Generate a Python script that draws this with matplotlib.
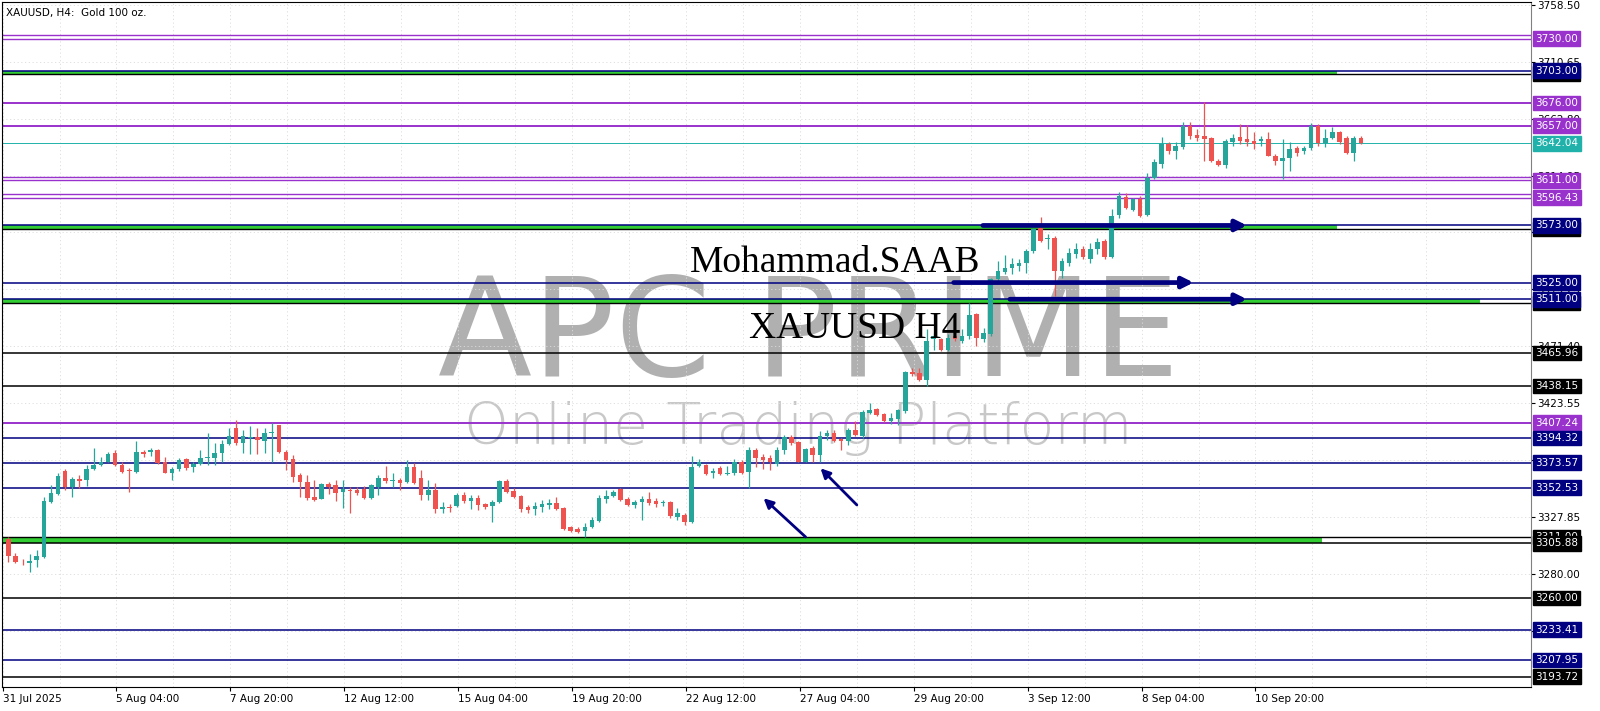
import numpy as np
import matplotlib.pyplot as plt
from matplotlib.transforms import blended_transform_factory

# H4 candles (bar 0 = 31 Jul 2025)
opens = [3309.2, 3295.4, 3290.5, 3289.0, 3291.8, 3294.6, 3340.9, 3347.4, 3366.7, 3353.0,
         3359.7, 3359.1, 3368.1, 3371.8, 3374.6, 3381.6, 3371.8, 3367.3, 3366.2, 3383.0,
         3382.2, 3383.9, 3374.6, 3365.3, 3368.1, 3376.6, 3369.8, 3372.6, 3377.8, 3377.4,
         3381.6, 3389.5, 3402.7, 3390.0, 3394.3, 3395.1, 3391.5, 3398.5, 3404.9, 3382.2,
         3376.6, 3363.4, 3357.8, 3345.1, 3343.2, 3355.5, 3355.0, 3348.8, 3350.8, 3350.8,
         3351.3, 3343.7, 3353.5, 3360.6, 3358.6, 3359.2, 3357.8, 3370.4, 3360.6, 3346.5,
         3350.7, 3334.4, 3336.1, 3337.3, 3346.5, 3341.7, 3343.7, 3338.9, 3337.3, 3340.9,
         3358.6, 3350.2, 3345.7, 3336.1, 3335.0, 3336.7, 3338.1, 3339.5, 3335.3, 3319.3,
         3317.9, 3316.5, 3319.3, 3324.9, 3342.9, 3345.7, 3351.3, 3342.9, 3338.1, 3340.9,
         3342.9, 3341.7, 3339.5, 3340.9, 3328.3, 3329.7, 3324.1, 3370.9, 3371.8, 3364.8,
         3369.0, 3364.2, 3364.8, 3373.8, 3366.2, 3384.4, 3378.3, 3377.4, 3372.6, 3383.9,
         3395.1, 3390.6, 3374.6, 3385.8, 3380.2, 3395.7, 3398.5, 3393.4, 3391.5, 3401.3,
         3396.2, 3415.6, 3418.7, 3414.8, 3408.3, 3410.3, 3416.7, 3449.6, 3449.0, 3443.5,
         3477.2, 3477.2, 3468.7, 3480.0, 3475.8, 3480.0, 3498.2, 3477.7, 3481.4, 3527.7,
         3533.9, 3537.5, 3538.9, 3541.7, 3551.6, 3571.2, 3561.7, 3562.8, 3534.7, 3541.7,
         3548.8, 3553.5, 3545.1, 3553.0, 3560.0, 3546.8, 3581.6, 3597.3, 3586.0, 3595.0,
         3581.6, 3613.3, 3624.5, 3641.4, 3635.8, 3638.6, 3656.8, 3649.0, 3648.4, 3646.1,
         3627.3, 3623.7, 3642.8, 3647.0, 3645.6, 3644.2, 3644.2, 3645.6, 3631.5, 3627.3,
         3630.1, 3637.7, 3635.8, 3637.7, 3656.8, 3642.2, 3646.1, 3651.2, 3646.1, 3634.3,
         3646.1]
highs = [3310.9, 3297.4, 3293.0, 3296.8, 3300.0, 3345.1, 3355.0, 3364.8, 3368.0, 3362.0,
         3363.4, 3371.8, 3385.8, 3378.3, 3383.0, 3383.9, 3374.6, 3369.0, 3391.5, 3383.9,
         3385.8, 3385.0, 3378.8, 3369.8, 3377.4, 3377.4, 3374.6, 3384.4, 3398.5, 3390.0,
         3392.8, 3402.7, 3409.1, 3400.7, 3404.6, 3402.7, 3402.7, 3406.9, 3405.5, 3384.4,
         3380.2, 3365.3, 3363.4, 3359.2, 3356.4, 3357.8, 3359.2, 3359.2, 3353.5, 3353.0,
         3354.1, 3355.8, 3363.4, 3370.9, 3364.8, 3360.6, 3376.0, 3373.2, 3367.6, 3359.2,
         3356.9, 3340.9, 3338.9, 3347.9, 3349.3, 3346.5, 3346.5, 3340.1, 3342.3, 3359.2,
         3359.7, 3352.1, 3346.5, 3338.1, 3340.9, 3342.3, 3342.9, 3345.1, 3336.1, 3320.4,
         3319.3, 3322.7, 3328.3, 3346.5, 3350.7, 3350.7, 3352.1, 3345.1, 3342.3, 3345.7,
         3349.3, 3343.7, 3342.3, 3341.7, 3335.3, 3331.1, 3379.4, 3376.6, 3372.6, 3369.0,
         3371.0, 3371.0, 3376.6, 3376.0, 3387.2, 3385.8, 3381.1, 3380.2, 3387.2, 3397.1,
         3397.1, 3391.5, 3385.8, 3387.8, 3399.9, 3400.7, 3400.7, 3394.3, 3402.7, 3408.3,
         3417.6, 3423.7, 3419.5, 3415.3, 3415.3, 3418.7, 3451.0, 3453.3, 3453.3, 3485.6,
         3482.8, 3478.6, 3481.4, 3480.5, 3485.6, 3508.0, 3499.6, 3487.0, 3529.1, 3543.2,
         3547.9, 3545.9, 3544.6, 3553.0, 3571.2, 3579.7, 3565.6, 3564.2, 3546.0, 3554.4,
         3558.6, 3555.8, 3558.6, 3562.8, 3562.0, 3586.7, 3600.7, 3600.1, 3596.4, 3597.9,
         3617.5, 3628.7, 3647.0, 3642.8, 3642.8, 3659.6, 3660.2, 3654.0, 3676.5, 3647.0,
         3628.7, 3645.6, 3649.8, 3658.2, 3657.4, 3651.8, 3648.4, 3651.2, 3632.9, 3645.6,
         3642.8, 3639.4, 3640.0, 3659.0, 3658.2, 3654.0, 3655.4, 3652.6, 3647.8, 3648.4,
         3647.8]
lows = [3290.4, 3289.5, 3287.5, 3282.0, 3286.0, 3293.2, 3339.5, 3346.5, 3350.7, 3345.0,
        3352.1, 3354.1, 3367.6, 3371.0, 3373.8, 3371.0, 3365.3, 3349.3, 3365.3, 3378.3,
        3379.4, 3372.6, 3364.8, 3359.2, 3367.0, 3367.6, 3366.2, 3371.8, 3371.8, 3371.8,
        3374.6, 3388.6, 3388.6, 3381.6, 3381.1, 3381.1, 3381.6, 3374.6, 3381.6, 3367.6,
        3357.8, 3345.1, 3342.3, 3341.7, 3342.9, 3347.4, 3341.7, 3335.3, 3331.1, 3346.5,
        3342.9, 3342.9, 3346.5, 3356.4, 3353.5, 3350.7, 3356.9, 3355.8, 3342.3, 3342.3,
        3331.1, 3331.6, 3332.5, 3336.1, 3339.5, 3334.4, 3333.9, 3334.4, 3324.1, 3340.1,
        3348.5, 3343.7, 3332.5, 3331.1, 3329.7, 3332.5, 3334.4, 3333.9, 3317.0, 3315.6,
        3314.2, 3311.4, 3318.4, 3324.1, 3339.5, 3344.6, 3341.7, 3337.3, 3335.3, 3325.5,
        3338.1, 3336.1, 3337.3, 3326.9, 3325.5, 3321.3, 3322.7, 3369.8, 3363.4, 3360.6,
        3363.4, 3363.4, 3363.4, 3364.2, 3352.1, 3370.4, 3368.1, 3367.6, 3371.0, 3381.1,
        3388.6, 3373.8, 3373.8, 3374.6, 3374.6, 3392.8, 3390.6, 3384.4, 3388.6, 3396.2,
        3394.3, 3414.8, 3413.1, 3407.5, 3406.3, 3405.5, 3415.0, 3446.3, 3442.1, 3437.8,
        3468.7, 3467.3, 3467.3, 3475.8, 3474.4, 3477.7, 3471.5, 3474.9, 3480.0, 3526.3,
        3531.9, 3531.9, 3534.7, 3533.3, 3550.2, 3559.2, 3553.5, 3513.7, 3529.1, 3538.9,
        3546.0, 3544.6, 3541.7, 3548.8, 3545.1, 3546.0, 3579.6, 3586.6, 3585.2, 3580.4,
        3581.0, 3611.9, 3621.7, 3633.0, 3628.7, 3637.2, 3645.6, 3644.2, 3627.3, 3626.5,
        3622.6, 3620.9, 3640.0, 3641.4, 3640.0, 3637.2, 3640.0, 3631.0, 3623.7, 3612.4,
        3618.9, 3631.5, 3632.9, 3636.6, 3640.0, 3638.6, 3645.6, 3641.4, 3632.9, 3627.3,
        3641.4]
closes = [3295.4, 3290.4, 3290.0, 3291.0, 3295.1, 3341.7, 3347.9, 3362.8, 3353.0, 3359.7,
          3358.6, 3368.1, 3371.8, 3374.6, 3381.1, 3371.8, 3366.2, 3366.7, 3382.2, 3381.0,
          3383.9, 3373.2, 3365.3, 3368.1, 3376.0, 3369.0, 3372.6, 3377.4, 3378.3, 3381.6,
          3389.5, 3396.2, 3390.0, 3395.7, 3394.6, 3392.3, 3398.5, 3399.0, 3382.2, 3376.0,
          3362.0, 3357.8, 3343.7, 3342.3, 3355.5, 3353.5, 3348.5, 3351.3, 3350.2, 3348.0,
          3343.7, 3355.0, 3360.6, 3358.6, 3358.9, 3356.9, 3370.4, 3356.4, 3346.5, 3350.7,
          3334.4, 3336.1, 3335.3, 3346.5, 3341.7, 3343.7, 3338.1, 3336.1, 3340.9, 3358.6,
          3349.3, 3345.1, 3334.4, 3333.9, 3337.0, 3338.9, 3339.5, 3334.4, 3317.6, 3316.5,
          3315.6, 3319.9, 3325.5, 3343.7, 3345.7, 3349.3, 3342.3, 3338.1, 3340.9, 3342.9,
          3339.5, 3338.9, 3340.9, 3328.8, 3331.1, 3324.1, 3370.4, 3374.6, 3364.2, 3367.0,
          3364.2, 3364.8, 3374.6, 3365.3, 3384.4, 3377.4, 3376.0, 3373.8, 3383.9, 3395.1,
          3390.0, 3374.6, 3385.0, 3380.2, 3395.7, 3398.5, 3391.5, 3391.5, 3401.3, 3397.1,
          3415.9, 3417.6, 3413.9, 3408.3, 3411.1, 3417.6, 3449.6, 3448.5, 3443.5, 3475.8,
          3480.0, 3468.7, 3478.6, 3477.2, 3480.0, 3497.4, 3478.6, 3482.8, 3527.7, 3534.7,
          3537.5, 3540.3, 3541.7, 3551.6, 3569.8, 3560.0, 3562.2, 3534.7, 3543.2, 3550.2,
          3553.5, 3546.8, 3553.5, 3559.2, 3546.8, 3581.1, 3597.9, 3588.0, 3595.0, 3581.0,
          3613.3, 3626.5, 3641.4, 3635.8, 3640.0, 3656.8, 3648.4, 3646.1, 3645.6, 3627.3,
          3623.7, 3644.2, 3646.1, 3644.2, 3642.8, 3641.4, 3645.6, 3631.5, 3627.3, 3630.1,
          3637.2, 3634.3, 3637.7, 3656.8, 3642.2, 3646.1, 3651.2, 3642.8, 3634.3, 3646.1,
          3642.0]

time_labels = ['31 Jul 2025', '5 Aug 04:00', '7 Aug 20:00', '12 Aug 12:00', '15 Aug 04:00',
               '19 Aug 20:00', '22 Aug 12:00', '27 Aug 04:00', '29 Aug 20:00', '3 Sep 12:00',
               '8 Sep 04:00', '10 Sep 20:00']
price_ticks = [3232.15, 3280.00, 3327.85, 3375.70, 3423.55, 3471.40, 3519.25,
               3567.10, 3614.95, 3662.80, 3710.65, 3758.50]

purple_levels = [3730.00, 3676.00, 3657.00, 3611.00, 3596.43, 3407.24]
purple_double = [True, False, False, True, True, False]
navy_levels = [3703.00, 3573.00, 3525.00, 3511.00, 3394.32, 3373.57, 3352.53, 3233.41, 3207.95]
black_levels = [3465.96, 3438.15, 3305.88, 3260.00, 3193.72]
bid_price = 3642.04

# green zones: (lower line, upper line, last bar reached) + the black partner line of each
zone_low = [3700.50, 3570.00, 3508.00, 3305.88]
zone_high = [3703.00, 3573.00, 3511.00, 3311.00]
zone_end = [186.6, 186.6, 206.7, 184.6]
zone_black = [3700.50, 3570.00, 3508.00, 3311.00]

# hand drawn arrows (bar, price)
harrow_from = [136.9, 132.8, 140.7]
harrow_to = [174.0, 166.5, 174.0]
harrow_price = [3573.0, 3525.0, 3511.0]
darrow_tail = [(112.0, 3311.2), (119.2, 3338.1)]
darrow_tip = [(106.1, 3343.7), (114.1, 3368.9)]

UP = '#26a69a'
DOWN = '#ef5350'
PURPLE = '#9932cc'
NAVY = '#000080'
BID = '#20b2aa'
GREEN = '#32cd32'

fig = plt.figure(figsize=(16, 7.11), dpi=100)
ax = fig.add_axes([2 / 1600, 24 / 711, 1529 / 1600, 685 / 711])
ax.set_xlim(-0.88, 213.9)
ax.set_ylim(3185.1, 3760.8)

o = np.array(opens)
h = np.array(highs)
l = np.array(lows)
c = np.array(closes)
x = np.arange(len(o))
col = np.where(c >= o, UP, DOWN)

# axes, ticks, grid
ax.set_xticks([16 * k - 0.8 for k in range(len(time_labels))])
ax.set_xticks([8 * k - 0.8 for k in range(1, 27, 2)], minor=True)
ax.set_xticklabels(time_labels, ha='left', fontsize=7.5)
ax.set_yticks(price_ticks)
ax.set_yticklabels([f'{p:.2f}' for p in price_ticks], fontsize=7.5)
ax.yaxis.tick_right()
ax.tick_params(axis='y', length=3, pad=1.5, colors='black')
ax.tick_params(axis='x', which='major', length=3, pad=2)
ax.tick_params(axis='x', which='minor', length=0)
ax.grid(True, which='both', color='#dcdcdc', linestyle=(0, (1.5, 3)), lw=0.6)
ax.set_axisbelow(True)
for s in ax.spines.values():
    s.set_color('black')
    s.set_linewidth(0.8)
ax.spines['right'].set_color('#808080')

# watermark
ax.text(0.5053, 0.4712, 'APC PRIME', transform=fig.transFigure, ha='center', va='baseline',
        fontsize=99, color='#b0b0b0', zorder=0.3, family='DejaVu Sans')
ax.text(0.4988, 0.3755, 'Online Trading Platform', transform=fig.transFigure, ha='center',
        va='baseline', fontsize=41, color='#c8c8c8', zorder=0.3, family='DejaVu Sans',
        fontweight='light')

# zones
for lo, hi, end in zip(zone_low, zone_high, zone_end):
    ax.fill_between([-0.88, end], lo, hi, color=GREEN, lw=0, zorder=1)
for p in zone_black:
    ax.axhline(p, color='black', lw=1.0, zorder=1.5)

# horizontal levels
for p, dbl in zip(purple_levels, purple_double):
    if dbl:
        ax.axhline(p, color=PURPLE, lw=1.0, zorder=1.5)
        ax.axhline(p + 3.0, color=PURPLE, lw=1.0, zorder=1.5)
    else:
        ax.axhline(p, color=PURPLE, lw=1.4, zorder=1.5)
for p in navy_levels:
    ax.axhline(p, color=NAVY, lw=1.1, zorder=1.5)
for p in black_levels:
    ax.axhline(p, color='black', lw=1.1, zorder=1.5)
ax.axhline(bid_price, color=BID, lw=0.7, zorder=1.5)

# candles
ax.vlines(x, l, h, color=col, lw=0.9, zorder=3)
body = np.maximum(np.abs(c - o), 0.5)
ax.bar(x, body, bottom=np.minimum(o, c), width=0.64, color=col, lw=0, zorder=3.1)

# arrows
for x0, x1, p in zip(harrow_from, harrow_to, harrow_price):
    ax.annotate('', xy=(x1, p), xytext=(x0, p),
                arrowprops=dict(arrowstyle='-|>', color=NAVY, lw=3.4, mutation_scale=16,
                                shrinkA=0, shrinkB=0), zorder=4)
for tail, tip in zip(darrow_tail, darrow_tip):
    ax.annotate('', xy=tip, xytext=tail,
                arrowprops=dict(arrowstyle='-|>', color=NAVY, lw=2.0, mutation_scale=14,
                                shrinkA=0, shrinkB=0), zorder=4)

# price labels on the right scale
tr = blended_transform_factory(ax.transAxes, ax.transData)


def price_label(p, color):
    ax.text(1.0028, p, f'{p:.2f}', transform=tr, fontsize=7.5, color='white', va='center',
            ha='left', clip_on=False, zorder=6,
            bbox=dict(boxstyle='square,pad=0.22', fc=color, ec=color))


for p in zone_black:
    price_label(p, 'black')
for p in purple_levels:
    price_label(p, PURPLE)
for p in navy_levels:
    price_label(p, NAVY)
for p in black_levels:
    price_label(p, 'black')
price_label(bid_price, BID)

# texts
fig.text(6 / 1600, 1 - 13 / 711, 'XAUUSD, H4:  Gold 100 oz.', fontsize=7.5, va='center')
fig.text(0.5219, 0.6181, 'Mohammad.SAAB', family='Liberation Serif', fontsize=27,
         ha='center', va='baseline', zorder=7)
fig.text(0.5341, 0.5246, 'XAUUSD H4', family='Liberation Serif', fontsize=27,
         ha='center', va='baseline', zorder=7)

fig.savefig('out.png', dpi=100, facecolor='white')
